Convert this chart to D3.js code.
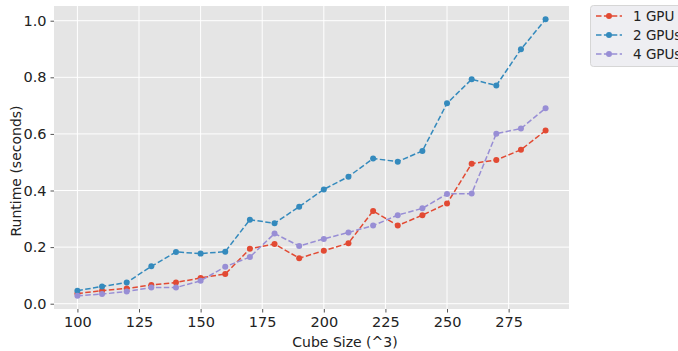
<!DOCTYPE html>
<html lang="en">
<head>
<meta charset="UTF-8">
<title>Runtime vs Cube Size</title>
<script src="https://d3js.org/d3.v7.min.js"></script>
<style>
    body { margin: 0; background: #fff; font-family: "DejaVu Sans", sans-serif; }
    svg { display: block; }
    .tick text { font-size: 14.5px; fill: #222; font-family: "DejaVu Sans", sans-serif; }
    .tick line { stroke: #555; }
    .domain { display: none; }
</style>
</head>
<body>
<svg id="chart" width="678" height="351"></svg>
<script>
const cubeSizes = [100, 110, 120, 130, 140, 150, 160, 170, 180, 190, 200, 210, 220, 230, 240, 250, 260, 270, 280, 290];
const gpu1 = [0.036, 0.046, 0.054, 0.066, 0.075, 0.091, 0.105, 0.194, 0.211, 0.161, 0.187, 0.214, 0.328, 0.276, 0.313, 0.354, 0.495, 0.508, 0.544, 0.612];
const gpu2 = [0.046, 0.061, 0.075, 0.132, 0.183, 0.177, 0.184, 0.297, 0.284, 0.343, 0.404, 0.449, 0.513, 0.502, 0.540, 0.708, 0.793, 0.771, 0.899, 1.005];
const gpu4 = [0.028, 0.034, 0.043, 0.057, 0.057, 0.081, 0.131, 0.165, 0.248, 0.204, 0.229, 0.252, 0.276, 0.313, 0.337, 0.388, 0.389, 0.601, 0.619, 0.691];
const seriesNames = ["1 GPU", "2 GPUs", "4 GPUs"];
const xTicks = [100, 125, 150, 175, 200, 225, 250, 275];
const yTicks = [0.0, 0.2, 0.4, 0.6, 0.8, 1.0];

const colors = ["#E24A33", "#348ABD", "#988ED5"];
const series = [gpu1, gpu2, gpu4];

const svg = d3.select("#chart");
const plot = { left: 54, top: 6, right: 569, bottom: 309 };

const x = d3.scaleLinear().domain([90.5, 299.5]).range([plot.left, plot.right]);
const y = d3.scaleLinear().domain([-0.0187, 1.052]).range([plot.bottom, plot.top]);

// background
svg.append("rect")
    .attr("x", plot.left).attr("y", plot.top)
    .attr("width", plot.right - plot.left).attr("height", plot.bottom - plot.top)
    .attr("fill", "#E5E5E5");

// grid
svg.append("g").selectAll("line").data(xTicks).enter().append("line")
    .attr("x1", d => x(d)).attr("x2", d => x(d))
    .attr("y1", plot.top).attr("y2", plot.bottom)
    .attr("stroke", "#fff").attr("stroke-width", 1);
svg.append("g").selectAll("line").data(yTicks).enter().append("line")
    .attr("y1", d => y(d)).attr("y2", d => y(d))
    .attr("x1", plot.left).attr("x2", plot.right)
    .attr("stroke", "#fff").attr("stroke-width", 1);

// axes
svg.append("g")
    .attr("transform", `translate(0,${plot.bottom})`)
    .call(d3.axisBottom(x).tickValues(xTicks).tickSize(3.5).tickPadding(4).tickFormat(d3.format("d")));
svg.append("g")
    .attr("transform", `translate(${plot.left},0)`)
    .call(d3.axisLeft(y).tickValues(yTicks).tickSize(3.5).tickPadding(4).tickFormat(d3.format(".1f")));

// axis labels (centred where the original puts them, not on the plot)
svg.append("text")
    .attr("x", 345).attr("y", 347)
    .attr("text-anchor", "middle")
    .style("font-size", "14px").attr("fill", "#222")
    .text("Cube Size (^3)");
svg.append("text")
    .attr("transform", "translate(21,171) rotate(-90)")
    .attr("text-anchor", "middle")
    .style("font-size", "14px").attr("fill", "#222")
    .text("Runtime (seconds)");

// lines + markers
const line = d3.line().x((d, i) => x(cubeSizes[i])).y(d => y(d));
series.forEach((vals, k) => {
    svg.append("path")
        .datum(vals)
        .attr("d", line)
        .attr("fill", "none")
        .attr("stroke", colors[k])
        .attr("stroke-width", 1.5)
        .attr("stroke-dasharray", "5.5,2.4");
    svg.append("g").selectAll("circle").data(vals).enter().append("circle")
        .attr("cx", (d, i) => x(cubeSizes[i]))
        .attr("cy", d => y(d))
        .attr("r", 3)
        .attr("fill", colors[k]);
});

// legend (runs off the right edge, as in the original)
const legend = svg.append("g");
legend.append("rect")
    .attr("x", 590.5).attr("y", 5.5).attr("width", 100).attr("height", 61)
    .attr("rx", 3)
    .attr("fill", "#EEEEF2").attr("stroke", "#D6D6D6");
seriesNames.forEach((name, k) => {
    const ly = 16 + k * 19;
    legend.append("line")
        .attr("x1", 596).attr("x2", 622).attr("y1", ly).attr("y2", ly)
        .attr("stroke", colors[k]).attr("stroke-width", 1.5)
        .attr("stroke-dasharray", "5.5,2.4");
    legend.append("circle").attr("cx", 609).attr("cy", ly).attr("r", 3).attr("fill", colors[k]);
    legend.append("text")
        .attr("x", 633).attr("y", ly + 5)
        .style("font-size", "13.5px").attr("fill", "#222")
        .text(name);
});
</script>
</body>
</html>
